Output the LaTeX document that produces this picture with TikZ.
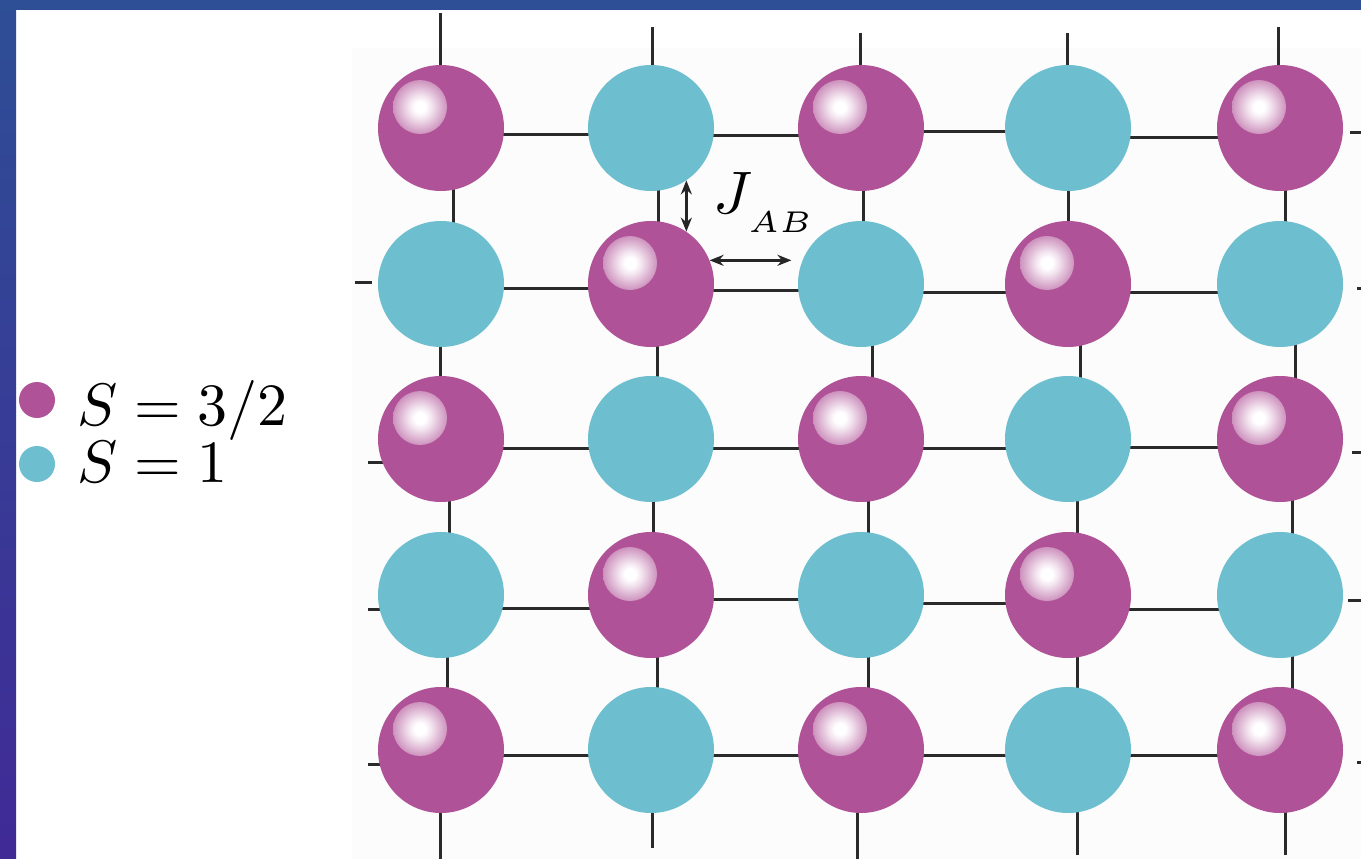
\documentclass[tikz,border=0pt]{standalone}
\usetikzlibrary{arrows.meta,calc,backgrounds}
\definecolor{mag}{HTML}{B05297}
\definecolor{cya}{HTML}{6DBFCF}
\definecolor{bandtop}{HTML}{2E4E96}
\definecolor{bandbot}{HTML}{402A96}
\definecolor{bond}{HTML}{2A2A2A}
\colorlet{hlA}{white!85!mag}
\colorlet{hlB}{white!60!mag}
\colorlet{hlC}{white!34!mag}
\colorlet{hlD}{white!12!mag}
\colorlet{paper}{black!1}
\pgfdeclareradialshading{hilite}{\pgfpoint{0bp}{0bp}}{color(0bp)=(white); color(5bp)=(white); color(10.5bp)=(hlA); color(18bp)=(hlB); color(26bp)=(hlC); color(31.5bp)=(hlD); color(35bp)=(mag); color(50bp)=(mag)}
\tikzset{
  siteA/.style={circle, fill=mag, minimum size=126pt, inner sep=0pt},
  siteB/.style={circle, fill=cya, minimum size=126pt, inner sep=0pt},
  bondline/.style={draw=bond, line width=3pt},
  jarrow/.style={draw=black!85, line width=2.4pt, {Stealth[length=14pt,width=11pt]}-{Stealth[length=14pt,width=11pt]}},
  lbl/.style={inner sep=0pt, anchor=base west, scale=6, font=\normalsize},
  legdot/.style={circle, minimum size=36pt, inner sep=0pt}
}
\begin{document}
\begin{tikzpicture}[x=1pt,y=-1pt]
\useasboundingbox (0,0) rectangle (1361,859);
\begin{scope}[on background layer]
  \fill[white] (0,0) rectangle (1361,859);
  \fill[paper] (352,48) rectangle (1361,859);
  \shade[top color=bandtop, bottom color=bandbot] (0,0) rectangle (16,859);
  \fill[bandtop] (0,0) rectangle (1361,10);
\end{scope}

% lattice sites
\foreach \i in {1,...,5}{
  \foreach \j in {1,...,5}{
    \pgfmathsetmacro\cx{{441,651,861,1068,1280}[\j-1]}
    \pgfmathsetmacro\cy{{128,284,439,595,750}[\i-1]}
    \pgfmathtruncatemacro\pty{mod(\i+\j,2)}
    \ifnum\pty=0
      \node[siteA] (n-\i-\j) at (\cx,\cy) {};
    \else
      \node[siteB] (n-\i-\j) at (\cx,\cy) {};
    \fi
  }
}
% highlights on S=3/2 sites
\foreach \i/\j in {1/1,1/3,1/5,2/2,2/4,3/1,3/3,3/5,4/2,4/4,5/1,5/3,5/5}{
  \shade[shading=hilite] ([shift={(-21pt,21pt)}]n-\i-\j.center) circle (27pt);
}

% bonds
\begin{scope}[on background layer]
  % horizontal bonds: row/col/offset down
  \foreach \i/\j/\d in {1/1/6,1/2/7,1/3/3,1/4/9,
                        2/1/4,2/2/6,2/3/8,2/4/8,
                        3/1/9,3/2/9,3/3/9,3/4/8,
                        4/1/13,4/2/4,4/3/8,4/4/14,
                        5/1/5,5/2/5,5/3/5,5/4/5}{
    \pgfmathtruncatemacro\jn{\j+1}
    \draw[bondline] ([yshift=-\d pt]n-\i-\j.center) -- ([yshift=-\d pt]n-\i-\jn.center);
  }
  % vertical bonds: row/col/offset right
  \foreach \i/\j/\d in {1/1/12,2/1/-1,3/1/8,4/1/6,
                        1/2/7,2/2/6,3/2/2,4/2/6,
                        1/3/2,2/3/11,3/3/7,4/3/7,
                        1/4/0,2/4/12,3/4/9,4/4/9,
                        1/5/5,2/5/15,3/5/12,4/5/12}{
    \pgfmathtruncatemacro\in{\i+1}
    \draw[bondline] ([xshift=\d pt]n-\i-\j.center) -- ([xshift=\d pt]n-\in-\j.center);
  }
  % top stubs
  \foreach \j/\x/\y in {1/440/13,2/652/27,3/860/33,4/1067/33,5/1278/27}{
    \coordinate (t-\j) at (\x,\y);
    \draw[bondline] (t-\j) -- (t-\j |- n-1-\j.center);
  }
  % bottom stubs
  \foreach \j/\x/\y in {1/440/859,2/652/848,3/857/859,4/1077/855,5/1285/855}{
    \coordinate (b-\j) at (\x,\y);
    \draw[bondline] (b-\j) -- (b-\j |- n-5-\j.center);
  }
  % left stubs
  \draw[bondline] (355,282) -- (372,282);
  \draw[bondline] (368,462) -- (383,462);
  \draw[bondline] (368,609) -- (383,609);
  \draw[bondline] (368,764) -- (381,764);
  % right stubs
  \draw[bondline] (1350,132) -- (1361,132);
  \draw[bondline] (1357,288) -- (1361,288);
  \draw[bondline] (1352,452) -- (1361,452);
  \draw[bondline] (1348,600) -- (1361,600);
  \draw[bondline] (1357,762) -- (1361,762);
\end{scope}

% exchange arrows
\draw[jarrow] (n-1-2.-56) -- (n-2-2.56);
\draw[jarrow, shorten >=11pt] (n-2-2.22) -- (n-2-3.158);
\node[lbl] (jab) at (712,213)
  {$J$\kern-0.7pt\raisebox{-3.2pt}{\fontsize{5.5}{6}\selectfont$AB$}};

% legend
\node[legdot, fill=mag] (dA) at (37,400) {};
\node[legdot, fill=cya] (dB) at (37,464) {};
\node[lbl] (tA) at (76,425) {$S=3/2$};
\node[lbl] (tB) at (76,482) {$S=1$};
\end{tikzpicture}
\end{document}
